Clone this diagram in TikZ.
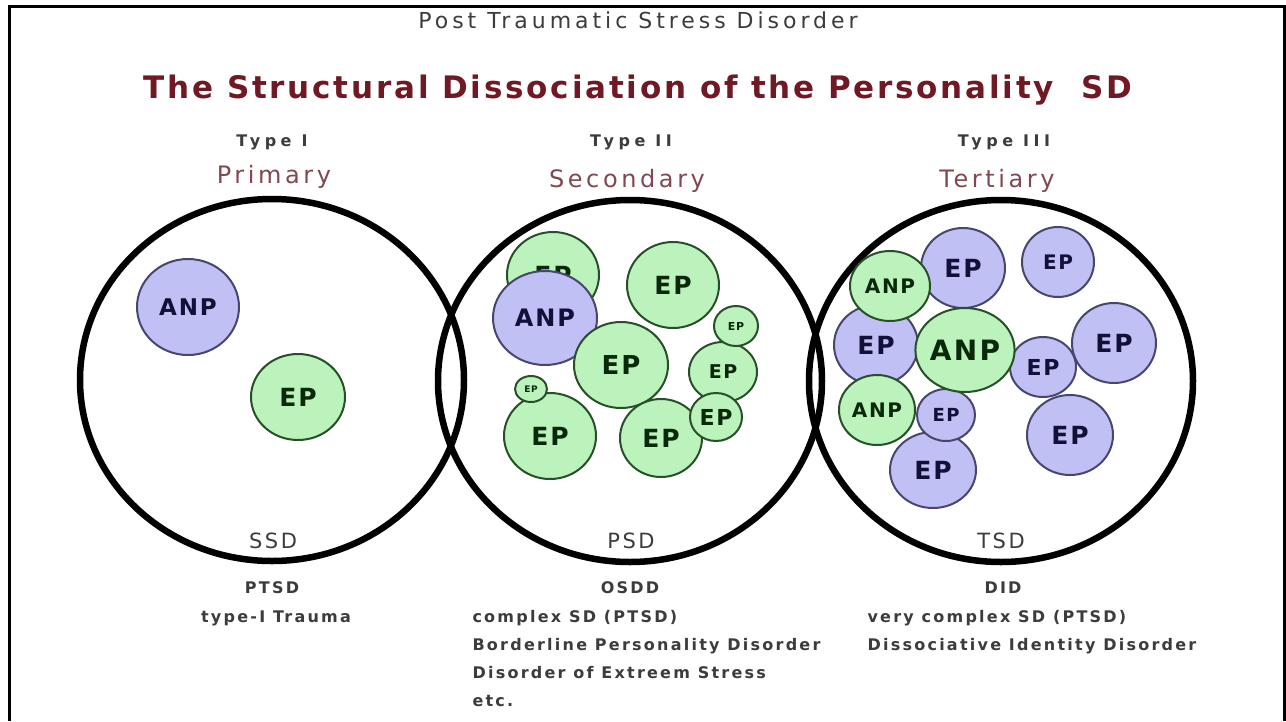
\documentclass[tikz,border=0pt]{standalone}
\usepackage{fontspec}
\setmainfont{DejaVu Sans}
\usetikzlibrary{shapes.geometric}

\definecolor{blobpurple}{RGB}{192,192,244}
\definecolor{blobgreen}{RGB}{188,242,188}
\definecolor{purpleedge}{RGB}{70,70,110}
\definecolor{greenedge}{RGB}{40,80,40}
\definecolor{purpletext}{RGB}{16,16,56}
\definecolor{greentext}{RGB}{10,40,10}
\definecolor{titlered}{RGB}{112,24,36}
\definecolor{headred}{RGB}{128,72,80}
\definecolor{labelgray}{RGB}{60,60,60}

% size and letter spacing in one go
\newcommand\fz[2]{\fontsize{#1}{#1}\selectfont\addfontfeature{LetterSpace=#2}}

\tikzset{
  ring/.style={ellipse, draw=black, line width=6.5pt, minimum width=384, minimum height=362, inner sep=0pt},
  blob/.style n args={3}{ellipse, inner sep=0pt, line width=2pt,
    minimum width=2*#1, minimum height=2*#2, font=\bfseries\fz{#3}{8}},
  pb/.style n args={3}{blob={#1}{#2}{#3}, fill=blobpurple, draw=purpleedge, text=purpletext},
  gb/.style n args={3}{blob={#1}{#2}{#3}, fill=blobgreen, draw=greenedge, text=greentext},
  typelbl/.style={anchor=base, text=labelgray, font=\bfseries\fz{16}{28}},
  kindlbl/.style={anchor=base, text=headred, font=\fz{24}{15}},
  sdlbl/.style={anchor=base, text=labelgray, font=\fz{21}{12}},
  note/.style={anchor=base, text=labelgray, font=\bfseries\fz{16}{14}},
  noteleft/.style={note, anchor=base west},
}

\begin{document}
\begin{tikzpicture}[x=1pt, y=-1pt]
\useasboundingbox (0,0) rectangle (1286,721);
\fill[white] (0,0) rectangle (1286,721);

% frame
\draw[line width=3pt] (9,721) -- (9,6) -- (1284,6) -- (1284,721);

% titles
\node[anchor=base, text=labelgray, font=\fz{22}{18}] (sub) at (638,28) {Post Traumatic Stress Disorder};
\node[anchor=base, text=titlered, font=\bfseries\fz{31}{9}] (title) at (638,98) {The Structural Dissociation of the Personality \ SD};

% column headings
\node[typelbl] (t1) at (272,146) {Type I};
\node[typelbl] (t2) at (631,146) {Type II};
\node[typelbl] (t3) at (1004,146) {Type III};
\node[kindlbl] (k1) at (274,183) {Primary};
\node[kindlbl] (k2) at (627,187) {Secondary};
\node[kindlbl] (k3) at (997,187) {Tertiary};

% the three structures
\node[ring] (ssd) at (272,380) {};
\node[ring] (psd) at (630,381) {};
\node[ring] (tsd) at (1001,381) {};

% primary
\node[pb={51}{48}{23}] (p-anp) at (188,307) {ANP};
\node[gb={47}{43}{25}] (p-ep) at (298,397) {EP};

% secondary
\node[gb={46}{43}{25}] (s-ep1) at (553,275) {EP};
\node[pb={52}{47}{24}] (s-anp) at (545,318) {ANP};
\node[gb={46}{43}{25}] (s-ep2) at (673,285) {EP};
\node[gb={47}{43}{26}] (s-ep3) at (621,365) {EP};
\node[gb={34}{30}{19}] (s-ep4) at (723,372) {EP};
\node[gb={22}{20}{11}] (s-ep5) at (736,326) {EP};
\node[gb={46}{43}{25}] (s-ep6) at (550,436) {EP};
\node[gb={16}{13}{9}] (s-ep7) at (531,389) {EP};
\node[gb={41}{39}{25}] (s-ep8) at (661,438) {EP};
\node[gb={26}{24}{22}] (s-ep9) at (716,417) {EP};

% tertiary
\node[pb={42}{40}{25}] (r-ep1) at (963,268) {EP};
\node[pb={36}{35}{20}] (r-ep2) at (1058,262) {EP};
\node[pb={42}{40}{25}] (r-ep3) at (876,345) {EP};
\node[pb={33}{30}{22}] (r-ep4) at (1043,367) {EP};
\node[pb={42}{40}{25}] (r-ep5) at (1114,343) {EP};
\node[pb={43}{38}{25}] (r-ep6) at (933,470) {EP};
\node[pb={29}{26}{18}] (r-ep7) at (946,415) {EP};
\node[pb={43}{40}{25}] (r-ep8) at (1070,435) {EP};
\node[gb={40}{35}{20}] (r-anp1) at (890,286) {ANP};
\node[gb={45}{42}{28}] (r-anp2) at (965,350) {ANP};
\node[gb={38}{35}{20}] (r-anp3) at (877,410) {ANP};

% structure names
\node[sdlbl] (l1) at (273,548) {SSD};
\node[sdlbl] (l2) at (631,548) {PSD};
\node[sdlbl] (l3) at (1001,548) {TSD};

% diagnoses
\node[note] (d1a) at (272,593) {PTSD};
\node[note] (d1b) at (276,622) {type-I Trauma};
\node[note] (d2a) at (630,593) {OSDD};
\node[noteleft] (d2b) at (469,622) {complex SD (PTSD)};
\node[noteleft] (d2c) at (469,650) {Borderline Personality Disorder};
\node[noteleft] (d2d) at (469,678) {Disorder of Extreem Stress};
\node[noteleft] (d2e) at (469,706) {etc.};
\node[note] (d3a) at (1003,593) {DID};
\node[noteleft] (d3b) at (864,622) {very complex SD (PTSD)};
\node[noteleft] (d3c) at (864,650) {Dissociative Identity Disorder};
\end{tikzpicture}
\end{document}
